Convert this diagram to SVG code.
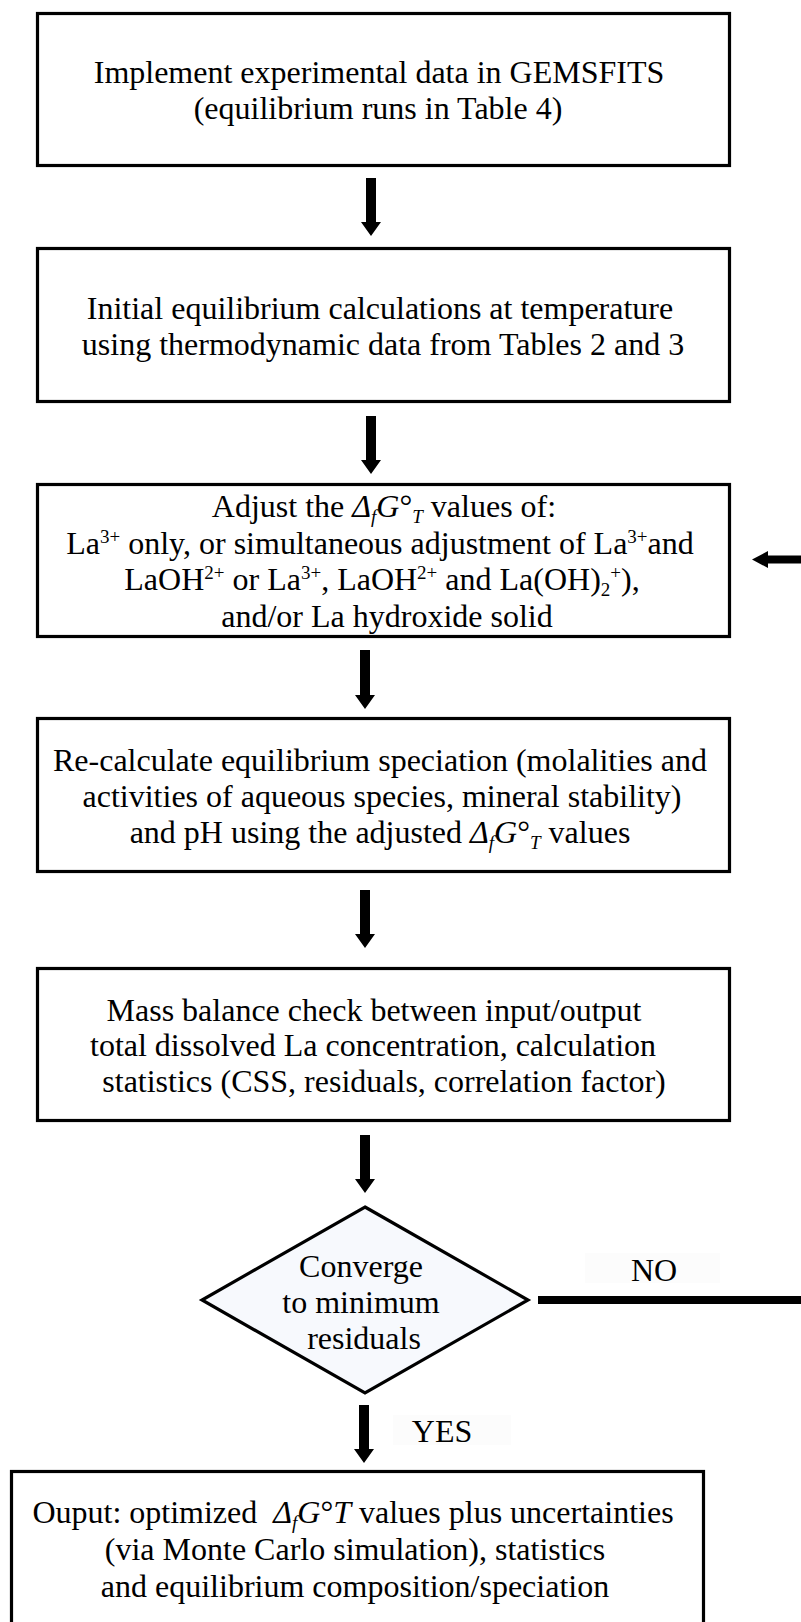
<svg xmlns="http://www.w3.org/2000/svg" width="801" height="1622" viewBox="0 0 801 1622">
<style>
.box{fill:#ffffff;stroke:#000;stroke-width:3.2}
.dia{fill:#f7f9fd;stroke:#000;stroke-width:3.2}
.t{font-family:"Liberation Serif","Times New Roman",serif;font-size:32px;fill:#000;text-anchor:middle}
.i{font-style:italic}
.s{font-size:19px}
.lbl{fill:#fcfcfc}
.arr{fill:#000}
.ln{stroke:#000;stroke-width:8;fill:none}
</style>
<rect width="801" height="1622" fill="#ffffff"/>

<g id="n1">
<rect class="box" x="37.5" y="13.5" width="692" height="152"/>
<text class="t" x="379" y="83">Implement experimental data in GEMSFITS</text>
<text class="t" x="378" y="119">(equilibrium runs in Table 4)</text>
</g>

<g id="n2">
<rect class="box" x="37.5" y="248.5" width="692" height="153"/>
<text class="t" x="380" y="319">Initial equilibrium calculations at temperature</text>
<text class="t" x="383" y="355">using thermodynamic data from Tables 2 and 3</text>
</g>

<g id="n3">
<rect class="box" x="37.5" y="484.5" width="692" height="152"/>
<text class="t" x="384" y="517">Adjust the <tspan class="i">Δ</tspan><tspan class="i s" dy="6">f</tspan><tspan class="i" dy="-6">G</tspan>°<tspan class="i s" dy="6">T</tspan><tspan dy="-6"> values of:</tspan></text>
<text class="t" x="380" y="554">La<tspan class="s" dy="-11">3+</tspan><tspan dy="11"> only, or simultaneous adjustment of La</tspan><tspan class="s" dy="-11">3+</tspan><tspan dy="11">and</tspan></text>
<text class="t" x="382" y="590">LaOH<tspan class="s" dy="-11">2+</tspan><tspan dy="11"> or La</tspan><tspan class="s" dy="-11">3+</tspan><tspan dy="11">, LaOH</tspan><tspan class="s" dy="-11">2+</tspan><tspan dy="11"> and La(OH)</tspan><tspan class="s" dy="6">2</tspan><tspan class="s" dy="-17">+</tspan><tspan dy="11">),</tspan></text>
<text class="t" x="387" y="627">and/or La hydroxide solid</text>
</g>

<g id="n4">
<rect class="box" x="37.5" y="718.5" width="692" height="153"/>
<text class="t" x="380" y="771">Re-calculate equilibrium speciation (molalities and</text>
<text class="t" x="382" y="807">activities of aqueous species, mineral stability)</text>
<text class="t" x="380" y="843">and pH using the adjusted <tspan class="i">Δ</tspan><tspan class="i s" dy="6">f</tspan><tspan class="i" dy="-6">G</tspan>°<tspan class="i s" dy="6">T</tspan><tspan dy="-6"> values</tspan></text>
</g>

<g id="n5">
<rect class="box" x="37.5" y="968.5" width="692" height="152"/>
<text class="t" x="374" y="1021">Mass balance check between input/output</text>
<text class="t" x="373" y="1056">total dissolved La concentration, calculation</text>
<text class="t" x="384" y="1092">statistics (CSS, residuals, correlation factor)</text>
</g>

<g id="n6">
<polygon class="dia" points="365,1207 528,1300 365,1393 202,1300"/>
<text class="t" x="361" y="1277">Converge</text>
<text class="t" x="361" y="1313">to minimum</text>
<text class="t" x="364" y="1349">residuals</text>
</g>

<g id="n7">
<rect class="box" x="11.5" y="1471.5" width="692" height="200"/>
<text class="t" x="353" y="1523">Ouput: optimized&#160; <tspan class="i">Δ</tspan><tspan class="i s" dy="6">f</tspan><tspan class="i" dy="-6">G</tspan>°<tspan class="i">T</tspan> values plus uncertainties</text>
<text class="t" x="355" y="1560">(via Monte Carlo simulation), statistics</text>
<text class="t" x="355" y="1597">and equilibrium composition/speciation</text>
</g>

<g id="connectors">
<polygon class="arr" points="366,178 376,178 376,222 381,222 371,236 361,222 366,222"/>
<polygon class="arr" points="366,416 376,416 376,460 381,460 371,474 361,460 366,460"/>
<polygon class="arr" points="360,650 370,650 370,695 375,695 365,709 355,695 360,695"/>
<polygon class="arr" points="360,890 370,890 370,934 375,934 365,948 355,934 360,934"/>
<polygon class="arr" points="360,1135 370,1135 370,1179 375,1179 365,1193 355,1179 360,1179"/>
<polygon class="arr" points="359,1405 369,1405 369,1449 374,1449 364,1463 354,1449 359,1449"/>
<line class="ln" x1="538" y1="1300" x2="801" y2="1300"/>
<polygon class="arr" points="801,555.5 768,555.5 768,551 752,559.5 768,568 768,563.5 801,563.5"/>
<g id="label-no">
<rect class="lbl" x="585" y="1253" width="135" height="30"/>
<text class="t" x="654" y="1281">NO</text>
</g>
<g id="label-yes">
<rect class="lbl" x="393" y="1415" width="118" height="30"/>
<text class="t" x="442" y="1442">YES</text>
</g>
</g>
</svg>
